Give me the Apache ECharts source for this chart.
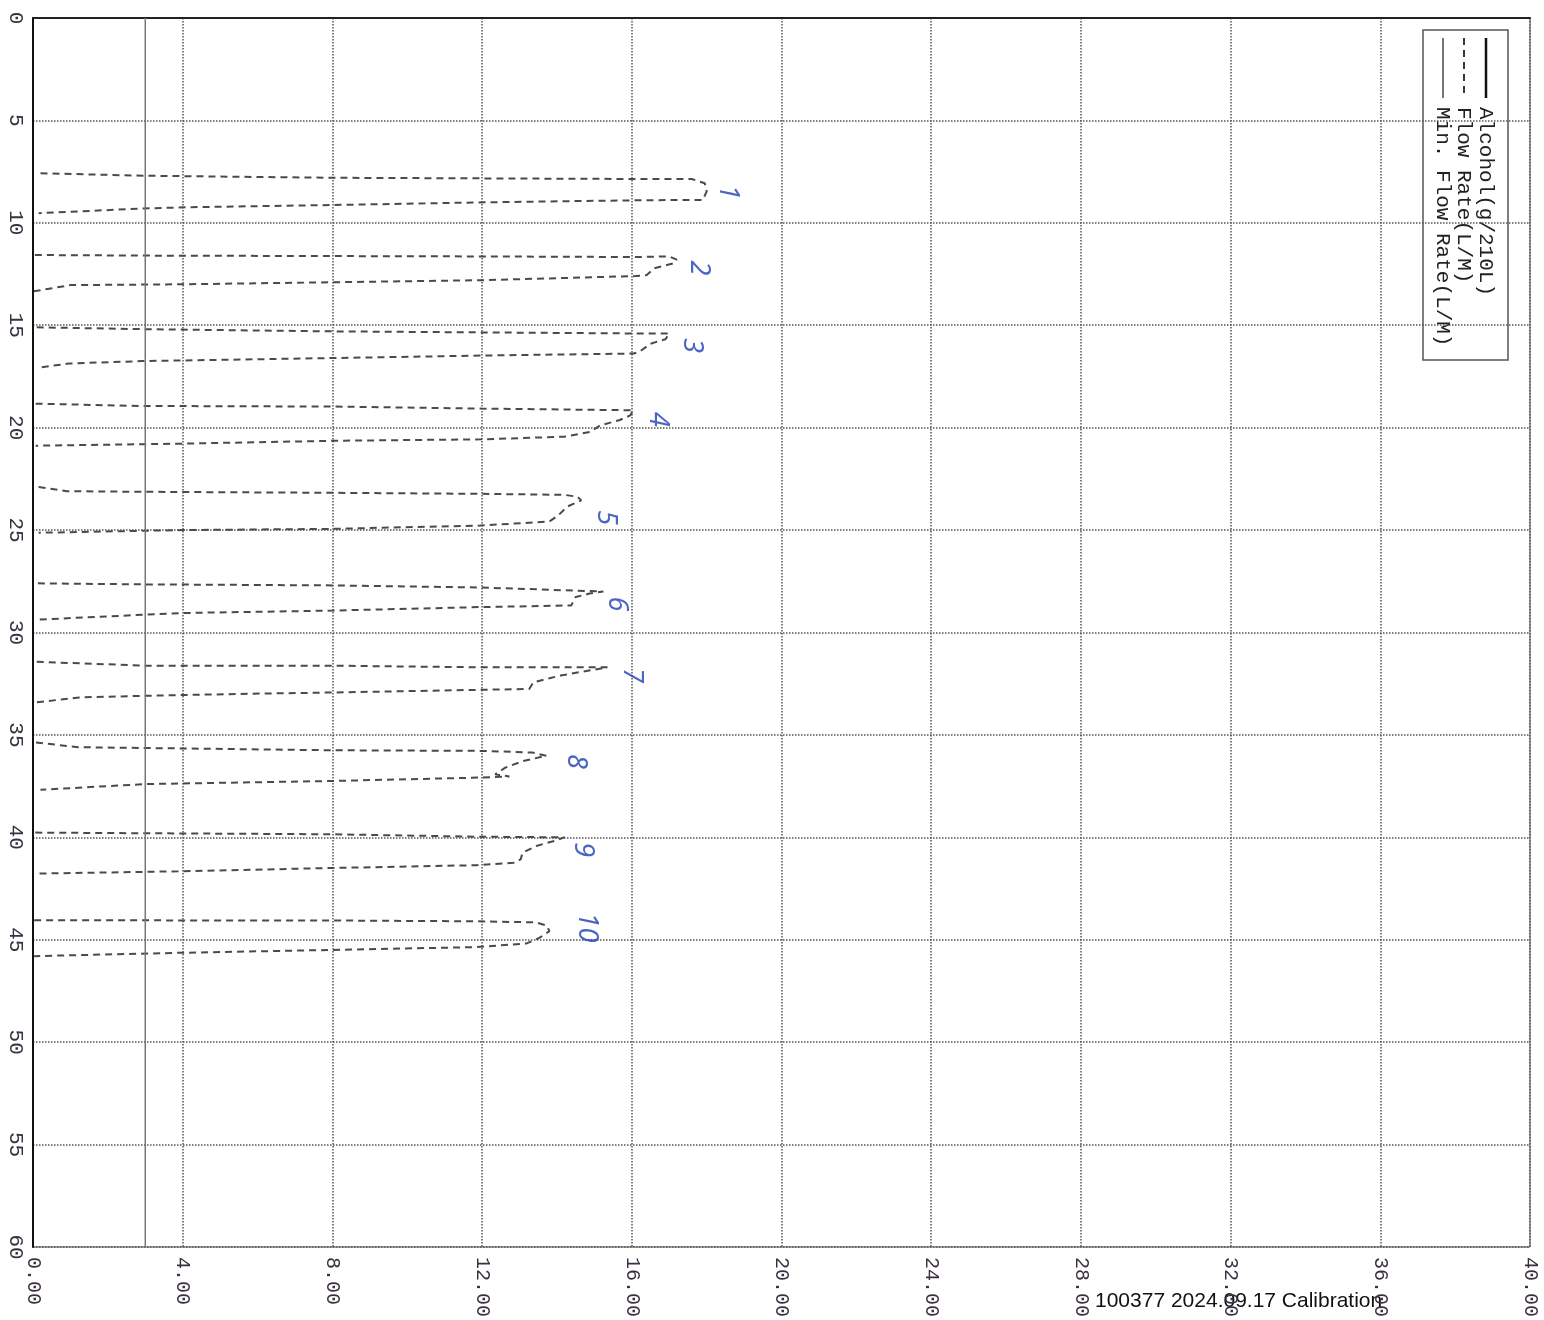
<!DOCTYPE html>
<html>
<head>
<meta charset="utf-8">
<script src="https://cdn.jsdelivr.net/npm/echarts@6/dist/echarts.min.js"></script>
<style>
  html, body { margin: 0; padding: 0; background: #fff; }
  #chart { width: 1544px; height: 1320px; }
</style>
</head>
<body>
<div id="chart"></div>
<script>
// axis ticks
const flowTicks = [0, 4, 8, 12, 16, 20, 24, 28, 32, 36, 40];
const timeTicks = [0, 5, 10, 15, 20, 25, 30, 35, 40, 45, 50, 55, 60];

// flow rate (L/M) traces, one per breath sample: out along the top, back along the bottom
const breathFlow = [
    [0.2, 2.95, 8.0, 16.1, 17.6, 17.95, 18.0, 17.9, 16.1, 12.05, 8.0, 4.1, 2.95, 0.15],
    [0.05, 2.93, 12.0, 16.1, 17.0, 17.2, 17.1, 16.6, 16.4, 16.1, 12.0, 8.0, 4.05, 1.0, 0.0],
    [0.1, 2.9, 8.06, 12.0, 16.05, 17.0, 16.9, 16.5, 16.2, 16.05, 12.0, 8.06, 2.9, 0.95, 0.15],
    [0.07, 2.88, 8.04, 11.97, 16.04, 15.96, 15.66, 15.15, 14.9, 14.2, 11.97, 8.04, 4.0, 0.07],
    [0.15, 0.9, 2.86, 8.0, 11.95, 14.2, 14.54, 14.65, 14.27, 14.03, 13.8, 11.95, 8.0, 4.0, 0.15],
    [0.13, 2.9, 8.0, 11.92, 15.24, 14.87, 14.5, 14.38, 11.92, 8.0, 3.95, 0.13],
    [0.1, 3.0, 7.97, 12.0, 15.35, 14.97, 14.1, 13.37, 13.26, 11.9, 7.97, 5.5, 3.0, 1.23, 0.1],
    [0.08, 1.2, 3.0, 8.0, 12.0, 13.34, 13.72, 13.1, 12.62, 12.35, 12.73, 12.0, 8.0, 3.0, 0.2],
    [0.06, 2.9, 7.92, 11.85, 14.2, 13.94, 13.45, 13.08, 13.03, 12.84, 11.85, 7.92, 3.88, 0.06],
    [0.03, 7.9, 11.83, 13.43, 13.72, 13.8, 13.54, 13.19, 11.83, 7.9, 3.86, 0.03]
];
const breathTime = [
    [7.58, 7.7, 7.8, 7.86, 7.86, 8.07, 8.46, 8.88, 8.9, 9.0, 9.13, 9.24, 9.3, 9.53],
    [11.57, 11.6, 11.64, 11.67, 11.64, 11.8, 11.98, 12.22, 12.55, 12.6, 12.8, 12.9, 13.0, 13.04, 13.35],
    [15.1, 15.19, 15.3, 15.35, 15.4, 15.4, 15.68, 15.9, 16.3, 16.38, 16.48, 16.6, 16.75, 16.87, 17.07],
    [18.83, 18.94, 18.97, 19.07, 19.15, 19.4, 19.64, 19.89, 20.2, 20.44, 20.57, 20.64, 20.78, 20.88],
    [22.9, 23.1, 23.13, 23.18, 23.23, 23.28, 23.37, 23.55, 23.86, 24.29, 24.58, 24.78, 24.94, 25.0, 25.13],
    [27.6, 27.65, 27.7, 27.8, 28.0, 28.1, 28.27, 28.68, 28.76, 28.93, 29.05, 29.37],
    [31.43, 31.62, 31.62, 31.7, 31.7, 31.82, 32.1, 32.43, 32.76, 32.8, 32.93, 33.0, 33.09, 33.17, 33.41],
    [35.37, 35.6, 35.64, 35.75, 35.78, 35.86, 36.02, 36.27, 36.6, 36.92, 37.03, 37.08, 37.25, 37.4, 37.68],
    [39.77, 39.8, 39.85, 39.97, 40.0, 40.17, 40.42, 40.75, 41.08, 41.24, 41.36, 41.5, 41.66, 41.77],
    [44.05, 44.06, 44.1, 44.15, 44.3, 44.58, 44.9, 45.18, 45.36, 45.5, 45.64, 45.8]
];

// alcohol stays at zero for the whole run
const alcoholValue = [0, 0];
const alcoholTime = [0, 60];

// minimum flow rate line
const minFlowValue = [3, 3];
const minFlowTime = [0, 60];

// handwritten sample numbers
const noteText = ['1', '2', '3', '4', '5', '6', '7', '8', '9', '10'];
const noteFlow = [18.55, 17.8, 17.6, 16.7, 15.3, 15.6, 16.0, 14.5, 14.7, 14.8];
const noteTime = [8.5, 12.2, 16.0, 19.6, 24.4, 28.6, 32.1, 36.3, 40.6, 44.4];

const mono = '"Liberation Mono", "DejaVu Sans Mono", monospace';

let series = [];

breathFlow.forEach((flow, i) => {
    series.push({
        name: 'Flow Rate(L/M)',
        type: 'line',
        showSymbol: false,
        silent: true,
        data: flow.map((v, k) => [v, breathTime[i][k]]),
        lineStyle: { color: '#4a4a4a', width: 2, type: [7, 5] }
    });
});

series.push({
    name: 'Min. Flow Rate(L/M)',
    type: 'line',
    showSymbol: false,
    data: minFlowValue.map((v, k) => [v, minFlowTime[k]]),
    lineStyle: { color: '#777', width: 1.5 }
});

series.push({
    name: 'Alcohol(g/210L)',
    type: 'line',
    showSymbol: false,
    data: alcoholValue.map((v, k) => [v, alcoholTime[k]]),
    lineStyle: { color: '#111', width: 2 }
});

series.push({
    type: 'scatter',
    symbolSize: 0,
    data: noteFlow.map((v, k) => ({ value: [v, noteTime[k]], name: noteText[k] })),
    label: {
        show: true,
        position: 'inside',
        formatter: p => p.name,
        rotate: -90,
        color: '#1f3fb0',
        fontSize: 27,
        fontStyle: 'italic',
        fontFamily: '"Noto Sans", sans-serif'
    }
});

let chart = echarts.init(document.getElementById('chart'));
chart.setOption({
    animation: false,
    backgroundColor: '#fff',
    grid: {
        left: 33, right: 14, top: 18, bottom: 70,
        show: true, borderColor: '#444', borderWidth: 1
    },
    xAxis: {
        type: 'value',
        min: flowTicks[0],
        max: flowTicks[flowTicks.length - 1],
        interval: flowTicks[1] - flowTicks[0],
        axisLine: { show: true, lineStyle: { color: '#222', width: 2 } },
        axisTick: { show: false },
        axisLabel: {
            rotate: -90,
            margin: 10,
            formatter: v => v.toFixed(2),
            color: '#3a3040',
            fontSize: 20,
            fontFamily: mono
        },
        splitLine: { show: true, lineStyle: { color: '#555', width: 1.5, type: 'dotted' } }
    },
    yAxis: {
        type: 'value',
        inverse: true,
        min: timeTicks[0],
        max: timeTicks[timeTicks.length - 1],
        interval: timeTicks[1] - timeTicks[0],
        axisLine: { show: true, lineStyle: { color: '#111', width: 2 } },
        axisTick: { show: false },
        axisLabel: {
            rotate: -90,
            margin: 7,
            color: '#3a3040',
            fontSize: 21,
            fontFamily: mono
        },
        splitLine: { show: true, lineStyle: { color: '#555', width: 1.5, type: 'dotted' } }
    },
    graphic: [
        {
            // legend box, printed sideways
            type: 'group',
            x: 1508, y: 30,
            rotation: -Math.PI / 2,
            children: [
                { type: 'rect', shape: { x: 0, y: 0, width: 330, height: 85 },
                  style: { fill: '#fff', stroke: '#555', lineWidth: 1.5 } },
                { type: 'line', shape: { x1: 8, y1: 22, x2: 68, y2: 22 },
                  style: { stroke: '#111', lineWidth: 2.5 } },
                { type: 'line', shape: { x1: 8, y1: 44, x2: 68, y2: 44 },
                  style: { stroke: '#222', lineWidth: 1.8, lineDash: [7, 5] } },
                { type: 'line', shape: { x1: 8, y1: 65, x2: 68, y2: 65 },
                  style: { stroke: '#555', lineWidth: 1.6 } },
                { type: 'text', x: 77, y: 22,
                  style: { text: 'Alcohol(g/210L)', font: '21px ' + mono, fill: '#222', verticalAlign: 'middle' } },
                { type: 'text', x: 77, y: 44,
                  style: { text: 'Flow Rate(L/M)', font: '21px ' + mono, fill: '#222', verticalAlign: 'middle' } },
                { type: 'text', x: 77, y: 65,
                  style: { text: 'Min. Flow Rate(L/M)', font: '21px ' + mono, fill: '#222', verticalAlign: 'middle' } }
            ]
        },
        {
            type: 'text',
            left: 1095, top: 1291,
            style: {
                text: '100377 2024.09.17 Calibration',
                font: '21px "Liberation Sans", Arial, sans-serif',
                fill: '#111'
            }
        }
    ],
    series: series
});
</script>
</body>
</html>
